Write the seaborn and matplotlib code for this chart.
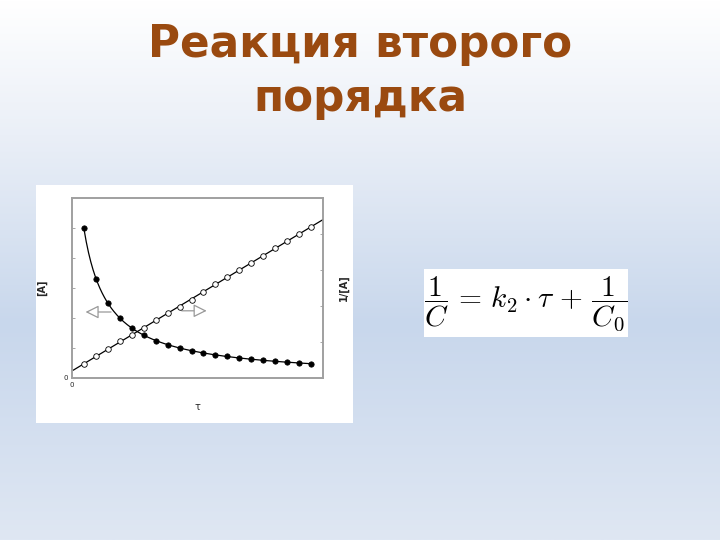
import numpy as np
import pandas as pd
import matplotlib
matplotlib.use("Agg")
import matplotlib.pyplot as plt
from matplotlib.colors import LinearSegmentedColormap
from matplotlib.patches import Rectangle
import seaborn as sns

# values
tau = [0.2, 0.4, 0.6, 0.8, 1.0, 1.2, 1.4, 1.6, 1.8, 2.0,
       2.2, 2.4, 2.6, 2.8, 3.0, 3.2, 3.4, 3.6, 3.8, 4.0]
conc = [5.0, 3.31, 2.49, 2.0, 1.67, 1.42, 1.24, 1.1, 0.99, 0.91,
        0.83, 0.77, 0.72, 0.68, 0.63, 0.6, 0.56, 0.52, 0.5, 0.47]
inv_conc = [0.2, 0.3, 0.4, 0.51, 0.6, 0.69, 0.8, 0.9, 0.99, 1.09,
            1.19, 1.3, 1.4, 1.5, 1.6, 1.7, 1.81, 1.9, 2.0, 2.1]

title_lines = ["Реакция второго", "порядка"]
formula = r"$\dfrac{1}{C}\,=\,k_2 \cdot \tau\,+\,\dfrac{1}{C_0}$"

df = pd.DataFrame({"tau": tau, "conc": conc, "inv": inv_conc})

# smooth guide lines fitted to the read points
b, a = np.polyfit(df["tau"], 1 / df["conc"], 1)
t_curve = np.linspace(df["tau"].min(), df["tau"].max(), 200)
curve = pd.DataFrame({"tau": t_curve, "conc": 1 / (a + b * t_curve)})
b2, a2 = np.polyfit(df["tau"], df["inv"], 1)
t_line = np.linspace(0.02, 4.2, 50)
line = pd.DataFrame({"tau": t_line, "inv": a2 + b2 * t_line})

sns.set_style("white")
plt.rcParams["font.family"] = ["DejaVu Sans"]
plt.rcParams["mathtext.fontset"] = "cm"

fig = plt.figure(figsize=(7.2, 5.4), dpi=100)

# slide background gradient
bg = fig.add_axes([0, 0, 1, 1], zorder=-10)
cmap = LinearSegmentedColormap.from_list(
    "slide", [(0, "#ffffff"), (0.25, "#eaeff7"), (0.6, "#c8d7ec"), (1, "#dfe7f3")])
bg.imshow(np.linspace(0, 1, 256)[:, None], aspect="auto", cmap=cmap,
          extent=[0, 1, 0, 1], origin="upper")
bg.set_axis_off()

# white panels
fig.patches.append(Rectangle((36 / 720, 1 - 423 / 540), 317 / 720, 238 / 540,
                             transform=fig.transFigure, facecolor="white",
                             edgecolor="none", zorder=-5))
fig.patches.append(Rectangle((424 / 720, 1 - 337 / 540), 204 / 720, 68 / 540,
                             transform=fig.transFigure, facecolor="white",
                             edgecolor="none", zorder=-5))

# title
fig.text(0.5, 1 - 45 / 540, title_lines[0], ha="center", va="center",
         fontsize=31.5, fontweight="bold", color="#9a4a10")
fig.text(0.5, 1 - 98 / 540, title_lines[1], ha="center", va="center",
         fontsize=31.5, fontweight="bold", color="#9a4a10")

# formula
fig.text(526 / 720, 1 - 304 / 540, formula, ha="center", va="center",
         fontsize=21.3, color="black")

ax = fig.add_axes([72 / 720, 1 - 378 / 540, 251 / 720, 180 / 540])
ax2 = ax.twinx()

sns.lineplot(data=curve, x="tau", y="conc", ax=ax, color="black", lw=0.9)
sns.scatterplot(data=df, x="tau", y="conc", ax=ax, color="black", s=15,
                edgecolor="black", linewidth=0.5, zorder=3)
sns.lineplot(data=line, x="tau", y="inv", ax=ax2, color="black", lw=0.9)
sns.scatterplot(data=df, x="tau", y="inv", ax=ax2, facecolor="white", s=16,
                edgecolor="black", linewidth=0.6, zorder=3)

ax.set_xlim(0, 4.2)
ax.set_ylim(0, 6)
ax2.set_ylim(0, 2.5)
ax.set_xticks([0, 1, 2, 3, 4])
ax.set_xticklabels(["0", "", "", "", ""])
ax.set_yticks([0, 1, 2, 3, 4, 5])
ax.set_yticklabels(["0", "", "", "", "", ""])
ax2.set_yticks([0, 0.5, 1, 1.5, 2])
ax2.set_yticklabels([])
for a_ in (ax, ax2):
    a_.tick_params(direction="in", length=2, width=0.6, color="#999999",
                   labelsize=5, pad=3)
    for s in a_.spines.values():
        s.set_color("#a0a0a0")
        s.set_linewidth(1.2)
ax.set_xlabel("τ", fontsize=7, labelpad=10)
ax.set_ylabel("[A]", fontsize=7, fontweight="bold", labelpad=12)
ax2.set_ylabel("1/[A]", fontsize=7, fontweight="bold", labelpad=8)

# direction arrows
ax.annotate("", xy=(0.18, 2.2), xytext=(0.7, 2.2),
            arrowprops=dict(arrowstyle="-|>,head_length=0.8,head_width=0.4",
                            color="#999999", fc="white", lw=0.9))
ax.annotate("", xy=(2.3, 2.24), xytext=(1.79, 2.24),
            arrowprops=dict(arrowstyle="-|>,head_length=0.8,head_width=0.4",
                            color="#999999", fc="white", lw=0.9))

fig.savefig("out.png", dpi=100)
